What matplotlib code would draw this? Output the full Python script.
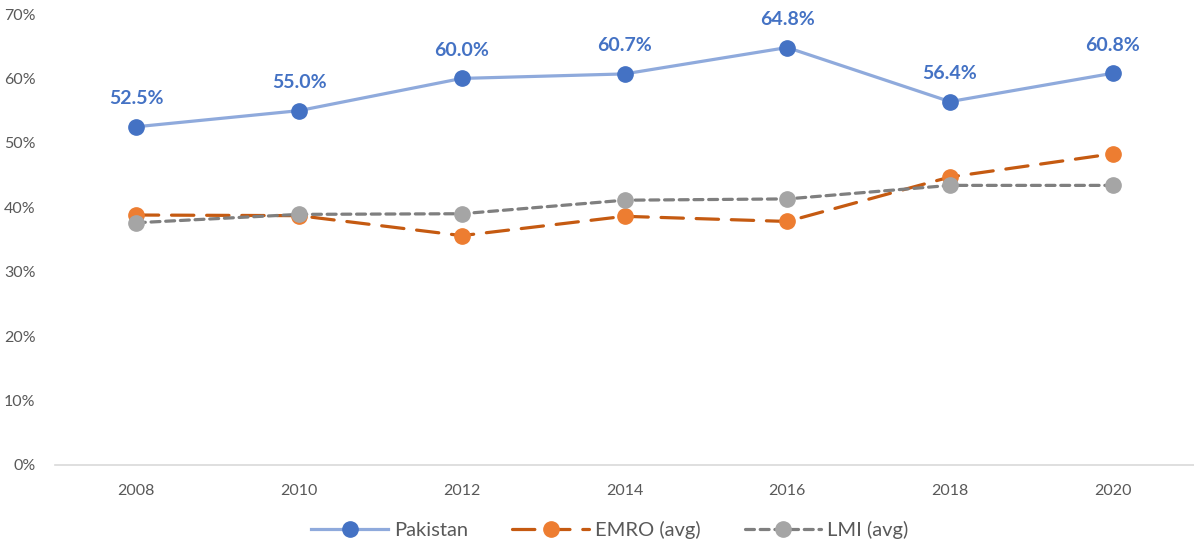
import matplotlib.pyplot as plt
from matplotlib.ticker import PercentFormatter

plt.rcParams['font.family'] = ['Lato', 'DejaVu Sans']

years = ['2008', '2010', '2012', '2014', '2016', '2018', '2020']
pakistan = [52.5, 55.0, 60.0, 60.7, 64.8, 56.4, 60.8]
emro = [38.8, 38.7, 35.6, 38.6, 37.8, 44.7, 48.3]
lmi = [37.6, 38.9, 39.0, 41.1, 41.3, 43.4, 43.4]

x = range(len(years))

fig = plt.figure(figsize=(11.94, 5.44), dpi=100)
ax = fig.add_axes([55 / 1194, 79 / 544, 1139 / 1194, 451 / 544])

ax.plot(x, pakistan, color='#8FAADC', lw=2.3, marker='o', ms=11,
        mfc='#4472C4', mec='#4472C4', label='Pakistan', zorder=4)
ax.plot(x, emro, color='#C55A11', lw=2.3, ls=(0, (7, 4)), marker='o', ms=11,
        mfc='#ED7D31', mec='#ED7D31', dash_capstyle='round',
        label='EMRO (avg)', zorder=3)
ax.plot(x, lmi, color='#7F7F7F', lw=2.3, ls=(0, (2.8, 1.8)), marker='o', ms=11,
        mfc='#A5A5A5', mec='#A5A5A5', dash_capstyle='round',
        label='LMI (avg)', zorder=3)

# value labels above the Pakistan points
for i, v in enumerate(pakistan):
    ax.annotate(f'{v:.1f}%', (i, v), xytext=(0, 14), textcoords='offset points',
                ha='center', va='bottom', fontsize=14, fontweight='bold',
                color='#4472C4')

ax.set_xlim(-0.5, len(years) - 0.5)
ax.set_ylim(0, 70)
ax.set_yticks(range(0, 71, 10))
ax.yaxis.set_major_formatter(PercentFormatter(decimals=0))
ax.set_xticks(list(x))
ax.set_xticklabels(years)

for s in ['top', 'right', 'left']:
    ax.spines[s].set_visible(False)
ax.spines['bottom'].set_color('#D9D9D9')
ax.spines['bottom'].set_linewidth(1.2)
ax.tick_params(axis='both', length=0, labelsize=11.5, colors='#595959')
ax.tick_params(axis='x', pad=14)
ax.tick_params(axis='y', pad=14)

fig.legend(loc='center', bbox_to_anchor=(610 / 1194, 1 - 530 / 544), ncol=3,
           frameon=False, fontsize=14.5, handlelength=3.8, columnspacing=2.2,
           handletextpad=0.3, labelcolor='#595959')

fig.savefig('out.png', dpi=100)
